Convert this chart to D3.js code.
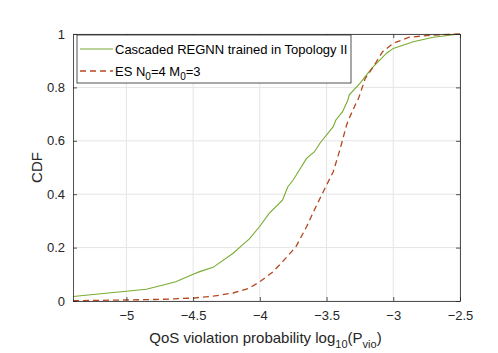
<!DOCTYPE html>
<html>
<head>
<meta charset="utf-8">
<script src="https://cdn.jsdelivr.net/npm/d3@7"></script>
<style>
  body { margin: 0; background: #fff; }
  text { font-family: "Liberation Sans", Arial, sans-serif; }
</style>
</head>
<body>
<div id="chart"></div>
<script>
// data
var xTicks = [-5, -4.5, -4, -3.5, -3, -2.5];
var yTicks = [0, 0.2, 0.4, 0.6, 0.8, 1];

var regnnX = [-5.4, -4.85, -4.63, -4.5, -4.45, -4.35, -4.2, -4.13, -4.08, -4.0, -3.93, -3.83, -3.79, -3.75, -3.65, -3.59, -3.55, -3.45, -3.43, -3.38, -3.34, -3.33, -3.25, -3.16, -3.05, -3.0, -2.85, -2.7, -2.5];
var regnnY = [0.017, 0.044, 0.072, 0.10, 0.11, 0.126, 0.179, 0.21, 0.232, 0.28, 0.328, 0.378, 0.428, 0.453, 0.534, 0.559, 0.591, 0.653, 0.678, 0.709, 0.753, 0.772, 0.815, 0.872, 0.928, 0.946, 0.971, 0.988, 1.0];

var esX = [-5.4, -5.0, -4.75, -4.5, -4.35, -4.2, -4.08, -4.0, -3.9, -3.83, -3.73, -3.65, -3.58, -3.5, -3.45, -3.4, -3.35, -3.33, -3.28, -3.26, -3.21, -3.15, -3.08, -3.0, -2.88, -2.7, -2.5];
var esY = [0.001, 0.004, 0.006, 0.011, 0.018, 0.03, 0.048, 0.072, 0.11, 0.147, 0.203, 0.278, 0.353, 0.434, 0.484, 0.566, 0.659, 0.684, 0.74, 0.759, 0.834, 0.877, 0.934, 0.965, 0.988, 0.996, 1.0];

// drawing area
var margin = {top: 34, right: 38, bottom: 52, left: 73};
var W = 498, H = 353;
var width = W - margin.left - margin.right,
    height = H - margin.top - margin.bottom;

var svg = d3.select("#chart").append("svg")
    .attr("width", W)
    .attr("height", H);

var g = svg.append("g")
    .attr("transform", "translate(" + margin.left + "," + margin.top + ")");

var x = d3.scaleLinear().domain([-5.4, -2.5]).range([0, width]);
var y = d3.scaleLinear().domain([0, 1]).range([height, 0]);

// grid
g.selectAll(".gx").data(xTicks).enter().append("line")
    .attr("x1", d => x(d)).attr("x2", d => x(d))
    .attr("y1", 0).attr("y2", height)
    .attr("stroke", "#e5e5e5").attr("stroke-width", 1);
g.selectAll(".gy").data(yTicks).enter().append("line")
    .attr("x1", 0).attr("x2", width)
    .attr("y1", d => y(d)).attr("y2", d => y(d))
    .attr("stroke", "#e5e5e5").attr("stroke-width", 1);

// lines
var line = d3.line().x(d => x(d[0])).y(d => y(d[1]));

g.append("path")
    .datum(regnnX.map((v, i) => [v, regnnY[i]]))
    .attr("fill", "none")
    .attr("stroke", "#77ac30")
    .attr("stroke-width", 1.1)
    .attr("d", line);

g.append("path")
    .datum(esX.map((v, i) => [v, esY[i]]))
    .attr("fill", "none")
    .attr("stroke", "#b5461f")
    .attr("stroke-width", 1.3)
    .attr("stroke-dasharray", "6,4")
    .attr("d", line);

// axes (box with inward ticks)
var axisColor = "#262626";
var xb = g.append("g").attr("transform", "translate(0," + height + ")")
    .call(d3.axisBottom(x).tickValues(xTicks).tickSizeInner(-4).tickSizeOuter(0).tickPadding(10).tickFormat(d3.format("")));
var xt = g.append("g")
    .call(d3.axisTop(x).tickValues(xTicks).tickSizeInner(-4).tickSizeOuter(0).tickFormat(""));
var yl = g.append("g")
    .call(d3.axisLeft(y).tickValues(yTicks).tickSizeInner(-4).tickSizeOuter(0).tickPadding(8).tickFormat(d3.format("")));
var yr = g.append("g").attr("transform", "translate(" + width + ",0)")
    .call(d3.axisRight(y).tickValues(yTicks).tickSizeInner(-4).tickSizeOuter(0).tickFormat(""));

[xb, xt, yl, yr].forEach(function (a) {
    a.select(".domain").attr("stroke", axisColor).attr("stroke-width", 0.8);
    a.selectAll(".tick line").attr("stroke", axisColor).attr("stroke-width", 0.8);
    a.selectAll("text").attr("fill", "#262626").style("font-size", "13px")
        .style("font-family", "Liberation Sans, Arial, sans-serif");
});

// axis labels
var xlab = svg.append("text")
    .attr("x", margin.left + width / 2 - 1)
    .attr("y", 343)
    .attr("text-anchor", "middle")
    .attr("fill", "#262626")
    .style("font-size", "15px");
xlab.append("tspan").text("QoS violation probability log");
xlab.append("tspan").attr("dy", 5).style("font-size", "11px").text("10");
xlab.append("tspan").attr("dy", -5).text("(P");
xlab.append("tspan").attr("dy", 5).style("font-size", "11px").text("vio");
xlab.append("tspan").attr("dy", -5).text(")");

svg.append("text")
    .attr("transform", "translate(42," + (margin.top + height / 2) + ") rotate(-90)")
    .attr("text-anchor", "middle")
    .attr("fill", "#262626")
    .style("font-size", "15px")
    .text("CDF");

// legend
var legend = svg.append("g").attr("transform", "translate(77,35)");
legend.append("rect")
    .attr("width", 274).attr("height", 48)
    .attr("fill", "#fff").attr("stroke", axisColor).attr("stroke-width", 0.8);

legend.append("line")
    .attr("x1", 3).attr("x2", 36).attr("y1", 14).attr("y2", 14)
    .attr("stroke", "#77ac30").attr("stroke-width", 1.1);
legend.append("text")
    .attr("x", 38).attr("y", 19)
    .attr("fill", "#000").style("font-size", "13px")
    .text("Cascaded REGNN trained in Topology II");

legend.append("line")
    .attr("x1", 3).attr("x2", 36).attr("y1", 36).attr("y2", 36)
    .attr("stroke", "#b5461f").attr("stroke-width", 1.3).attr("stroke-dasharray", "6,4");
var lt = legend.append("text")
    .attr("x", 38).attr("y", 40.5)
    .attr("fill", "#000").style("font-size", "13px");
lt.append("tspan").text("ES N");
lt.append("tspan").attr("dy", 4).style("font-size", "10px").text("0");
lt.append("tspan").attr("dy", -4).text("=4 M");
lt.append("tspan").attr("dy", 4).style("font-size", "10px").text("0");
lt.append("tspan").attr("dy", -4).text("=3");
</script>
</body>
</html>
